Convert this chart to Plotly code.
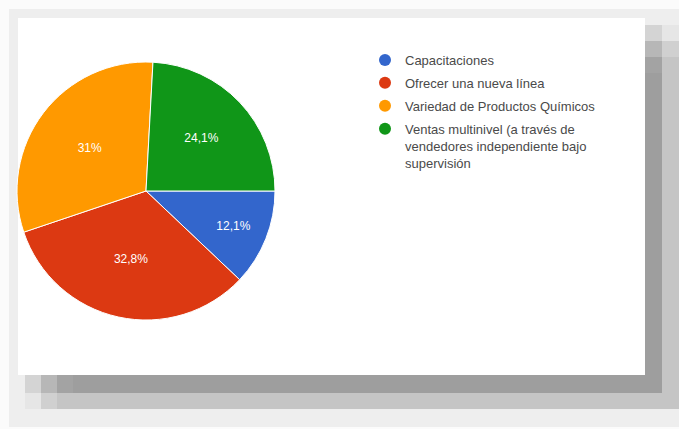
import plotly.graph_objects as go

# ---- data ----
labels = ["Capacitaciones", "Ofrecer una nueva línea", "Variedad de Productos Químicos",
          "Ventas multinivel (a través de<br>vendedores independiente bajo<br>supervisión"]
counts = [7, 19, 18, 14]
colors = ["#3366cc", "#dc3912", "#ff9900", "#109618"]

W, H = 679, 429
FONT = "Liberation Sans, Arial, sans-serif"

def px(x):
    return x / W

def py(y):
    return 1 - y / H

fig = go.Figure()

# pie (circle centred near (146,191))
cx, cy, r = 146, 191, 129
fig.add_trace(go.Pie(
    labels=labels, values=counts,
    marker=dict(colors=colors, line=dict(color="white", width=1)),
    sort=False, direction="clockwise", rotation=90,
    texttemplate="%{percent:.1~%}", textposition="inside",
    insidetextorientation="horizontal",
    textfont=dict(color="white", size=12, family=FONT),
    domain=dict(x=[px(cx - r), px(cx + r)], y=[py(cy + r), py(cy - r)]),
    showlegend=False, hoverinfo="skip",
))

# legend entries with circular markers
for i, (lab, col) in enumerate(zip(labels, colors)):
    fig.add_trace(go.Scatter(
        x=[None], y=[None], mode="markers", name=lab,
        legendgroup="g%d" % i,
        marker=dict(color=col, size=12, symbol="circle"),
        showlegend=True, hoverinfo="skip",
    ))

# background frame / shadow
rects = [
    (9, 679, 9, 427, "#eeeeee"),
    (25, 679, 25, 409, "#e6e6e6"),
    (41, 679, 41, 409, "#d0d0d0"),
    (57, 679, 57, 409, "#c5c5c5"),
    (25, 662, 25, 393, "#d4d4d4"),
    (41, 662, 41, 393, "#b7b7b7"),
    (57, 662, 57, 393, "#a3a3a3"),
    (73, 662, 73, 393, "#9e9e9e"),
    (18, 645, 18, 375, "#ffffff"),
]
shapes = [dict(type="rect", xref="paper", yref="paper",
               x0=px(a), x1=px(b), y0=py(d), y1=py(c),
               fillcolor=col, line=dict(width=0), layer="below")
          for a, b, c, d, col in rects]

fig.update_layout(
    width=W, height=H,
    margin=dict(l=0, r=0, t=0, b=0),
    paper_bgcolor="#fbfbfb",
    plot_bgcolor="rgba(0,0,0,0)",
    shapes=shapes,
    xaxis=dict(visible=False), yaxis=dict(visible=False),
    legend=dict(x=px(365), y=py(45), xanchor="left", yanchor="top",
                traceorder="grouped", tracegroupgap=3, valign="top",
                font=dict(family=FONT, size=13, color="#4a4a4a"),
                bgcolor="rgba(0,0,0,0)", itemclick=False, itemdoubleclick=False),
    showlegend=True,
    separators=",.",
    font=dict(family=FONT),
)

fig.write_html("out.html")
